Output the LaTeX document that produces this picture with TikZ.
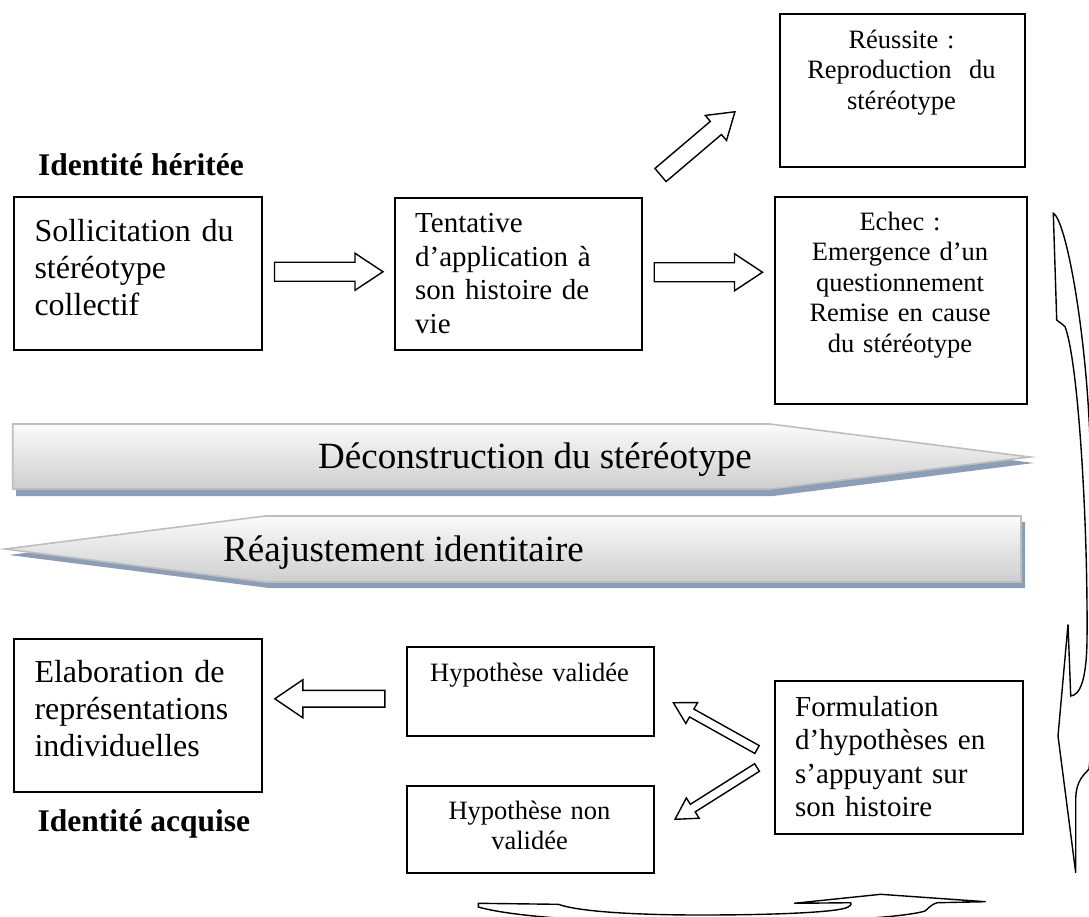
\documentclass[tikz,border=0pt]{standalone}
\usepackage{fontspec}
\setmainfont{Liberation Serif}
\usetikzlibrary{calc}
\definecolor{bandtop}{RGB}{251,251,251}
\definecolor{bandbot}{RGB}{206,206,206}
\definecolor{bandline}{RGB}{190,190,190}
\definecolor{bandshadow}{RGB}{140,157,182}
\newcommand{\blockarrow}[5]{%
  \path let \p1=($(#2)-(#1)$) in \pgfextra{%
    \pgfmathsetmacro\tmpang{atan2(\y1,\x1)}%
    \pgfmathsetmacro\tmplen{veclen(\x1,\y1)}%
    \global\let\barang\tmpang \global\let\barlen\tmplen};
  \begin{scope}[shift={(#1)},rotate=\barang]
    \draw[blockstyle] (0,-#3) -- ({\barlen-#5},-#3) -- ({\barlen-#5},-#4) -- (\barlen,0)
      -- ({\barlen-#5},#4) -- ({\barlen-#5},#3) -- (0,#3) -- cycle;
  \end{scope}}
\begin{document}
\begin{tikzpicture}[x=1pt,y=1pt,
  box/.style={draw=black, line width=1.5pt, fill=white, inner sep=0, anchor=north west},
  blockstyle/.style={draw=black, line width=1.4pt, fill=white, line join=miter},
  curvy/.style={draw=black, line width=1.4pt, fill=white, line join=miter},
  band/.style={draw=bandline, line width=1.6pt, top color=bandtop, bottom color=bandbot},
  bandsh/.style={fill=bandshadow},
  tl/.style={inner sep=0, align=left, text width=250, anchor=base west},
  tone/.style={inner sep=0, anchor=base west},
  tc/.style={inner sep=0, align=center, text width=245, anchor=base},
  f32/.style={font=\fontsize{32}{36.8}\selectfont},
  f29/.style={font=\fontsize{29}{33.6}\selectfont},
  f26/.style={font=\fontsize{26.5}{30.6}\selectfont},
  fb/.style={font=\fontsize{31.5}{36}\selectfont\bfseries},
  f37/.style={font=\fontsize{37}{42}\selectfont}]
\useasboundingbox (0,0) rectangle (1089,-916);

% ---- big shaded arrows
\fill[bandsh] (16,-430) -- (773,-430) -- (1034,-463) -- (773,-496) -- (16,-496) -- cycle;
\path[band] (12.7,-424) -- (770,-424) -- (1030,-457) -- (770,-489) -- (12.7,-489) -- cycle;
\node[tone, f37] (decon) at (318,-468.3) {Déconstruction du stéréotype};

\fill[bandsh] (1025,-522) -- (269,-522) -- (9,-555) -- (269,-588) -- (1025,-588) -- cycle;
\path[band] (1021,-516) -- (265,-516) -- (5,-549) -- (265,-582) -- (1021,-582) -- cycle;
\node[tone, f37] (reaj) at (223,-561) {Réajustement identitaire};

% ---- boxes
\node[box, minimum width=248, minimum height=153] (b1) at (13,-196) {};
\node[box, minimum width=247, minimum height=152] (b2) at (394,-197) {};
\node[box, minimum width=245, minimum height=153] (reus) at (779,-13) {};
\node[box, minimum width=252, minimum height=207] (echec) at (774,-196) {};
\node[box, minimum width=248, minimum height=153] (elab) at (13,-638) {};
\node[box, minimum width=247, minimum height=89] (hv) at (406,-646) {};
\node[box, minimum width=247, minimum height=87] (hnv) at (406,-785) {};
\node[box, minimum width=248, minimum height=153] (form) at (774,-680) {};

% ---- texts
\node[tone, fb] (idh) at (38,-175) {Identité héritée};
\node[tone, fb] (ida) at (37.3,-831) {Identité acquise};
\node[tl, f32] (b1t) at (34.3,-241.7) {Sollicitation du\\stéréotype\\collectif};
\node[tl, f29] (b2t) at (415,-232.7) {Tentative\\d’application à\\son histoire de\\vie};
\node[tc, f26] (reust) at (901.5,-48) {Réussite :\\Reproduction\ \ du\\stéréotype};
\node[tc, f26] (echect) at (900,-230) {Echec :\\Emergence d’un\\questionnement\\Remise en cause\\du stéréotype};
\node[tl, f32] (elabt) at (34.3,-682.7) {Elaboration de\\représentations\\individuelles};
\node[tc, f26] (hvt) at (529.5,-681) {Hypothèse validée};
\node[tc, f26] (hnvt) at (529.5,-819.3) {Hypothèse non\\validée};
\node[tl, f29] (formt) at (795,-716) {Formulation\\d’hypothèses en\\s’appuyant sur\\son histoire};

% ---- block arrows
\coordinate (a1s) at ($(b1.east)+(12,1.5)$);
\coordinate (a1e) at ($(b2.west)+(-11,2)$);
\blockarrow{a1s}{a1e}{9.5}{18.5}{28}
\coordinate (a2s) at ($(b2.east)+(11.7,1.5)$);
\coordinate (a2e) at ($(echec.west)+(-11.5,28)$);
\blockarrow{a2s}{a2e}{9.5}{18.5}{28}
\coordinate (a3s) at (660.5,-175);
\coordinate (a3e) at (735,-111.7);
\blockarrow{a3s}{a3e}{8.6}{16.4}{25}
\coordinate (a4s) at ($(elab.east)+(122.3,16.5)$);
\coordinate (a4e) at ($(elab.east)+(12.3,16.5)$);
\blockarrow{a4s}{a4e}{8.4}{19}{28}
\coordinate (a5s) at (757,-749.5);
\coordinate (a5e) at (673.3,-702.7);
\blockarrow{a5s}{a5e}{4.5}{12}{21}
\coordinate (a6s) at (757,-767.5);
\coordinate (a6e) at (675,-819.3);
\blockarrow{a6s}{a6e}{4.5}{12}{21}

% ---- curved arrows (clipped at the picture edge)
\begin{scope}
\clip (0,0) rectangle (1089,-916);
\draw[curvy] (1053.3,-213.3) -- (1056.7,-320)
  .. controls (1060,-323) and (1063,-324) .. (1065,-326.7)
  .. controls (1078,-360) and (1088,-520) .. (1087,-640)
  .. controls (1086.5,-680) and (1080,-695) .. (1070.7,-696)
  -- (1068,-624.3) -- (1058,-736) -- (1075.7,-872.7) -- (1075.7,-799.3)
  .. controls (1076,-780) and (1084,-775) .. (1089,-769)
  .. controls (1096,-700) and (1097,-500) .. (1090,-440)
  .. controls (1086,-330) and (1066,-220) .. cycle;
\draw[curvy] (478.3,-903.3) -- (558.3,-904.3)
  .. controls (580,-912) and (640,-915) .. (700,-915)
  .. controls (780,-915) and (840,-912) .. (848,-907)
  .. controls (851,-905) and (852,-904) .. (850.7,-902.7)
  -- (794,-903.3) -- (880.7,-894.3) -- (985.7,-901.7) -- (937.3,-902.7)
  .. controls (930,-905) and (929,-908) .. (925,-911)
  .. controls (880,-925) and (560,-930) .. (478.3,-907) -- cycle;
\end{scope}
\end{tikzpicture}
\end{document}
